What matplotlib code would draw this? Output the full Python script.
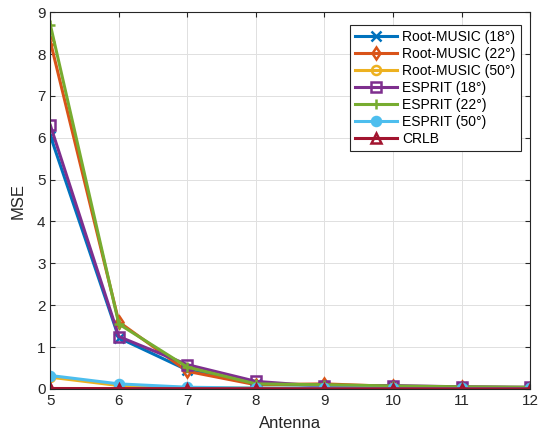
import matplotlib
matplotlib.use('Agg')
import matplotlib.pyplot as plt

antenna = [5, 6, 7, 8, 9, 10, 11, 12]

rm_18 = [6.05, 1.22, 0.45, 0.12, 0.08, 0.05, 0.04, 0.03]
rm_22 = [8.30, 1.60, 0.42, 0.10, 0.12, 0.06, 0.04, 0.03]
rm_50 = [0.28, 0.08, 0.03, 0.02, 0.02, 0.01, 0.01, 0.01]
esp_18 = [6.30, 1.25, 0.58, 0.18, 0.06, 0.08, 0.05, 0.04]
esp_22 = [8.70, 1.55, 0.52, 0.12, 0.10, 0.07, 0.05, 0.04]
esp_50 = [0.32, 0.12, 0.04, 0.02, 0.02, 0.01, 0.01, 0.01]
crlb = [0.01, 0.008, 0.006, 0.005, 0.004, 0.004, 0.003, 0.003]

series = [
    ('Root-MUSIC (18°)', rm_18, '#0072BD', 'x'),
    ('Root-MUSIC (22°)', rm_22, '#D95319', 'd'),
    ('Root-MUSIC (50°)', rm_50, '#EDB120', 'o'),
    ('ESPRIT (18°)', esp_18, '#7E2F8E', 's'),
    ('ESPRIT (22°)', esp_22, '#77AC30', '+'),
    ('ESPRIT (50°)', esp_50, '#4DBEEE', '.'),
    ('CRLB', crlb, '#A2142F', '^'),
]

plt.rcParams['font.family'] = ['Liberation Sans', 'DejaVu Sans']
fig = plt.figure(figsize=(5.47, 4.36), dpi=100)
ax = fig.add_axes([0.092, 0.108, 0.877, 0.864])

for label, vals, col, mk in series:
    ms = 13 if mk == '.' else 6.5
    ax.plot(antenna, vals, color=col, marker=mk, lw=2.2, ms=ms,
            mfc='none' if mk in ('d', 'o', 's', '^') else col, mew=1.8, label=label)

ax.set_xlim(5, 12)
ax.set_ylim(0, 9)
ax.set_xticks(range(5, 13))
ax.set_yticks(range(0, 10))
ax.grid(True, color='#e0e0e0', lw=0.7)
ax.tick_params(direction='in', labelsize=11, colors='#262626', top=True, right=True)
for s in ax.spines.values():
    s.set_color('#262626')
    s.set_linewidth(0.8)
ax.set_xlabel('Antenna', fontsize=12, color='#262626', labelpad=6)
ax.set_ylabel('MSE', fontsize=12, color='#262626', labelpad=8)

leg = ax.legend(loc='upper right', fontsize=10, fancybox=False, framealpha=1,
                edgecolor='#262626', handlelength=3, borderpad=0.35, labelspacing=0.22,
                handletextpad=0.4, bbox_to_anchor=(0.995, 0.985))
leg.get_frame().set_linewidth(0.8)

fig.savefig('out.png', dpi=100)
